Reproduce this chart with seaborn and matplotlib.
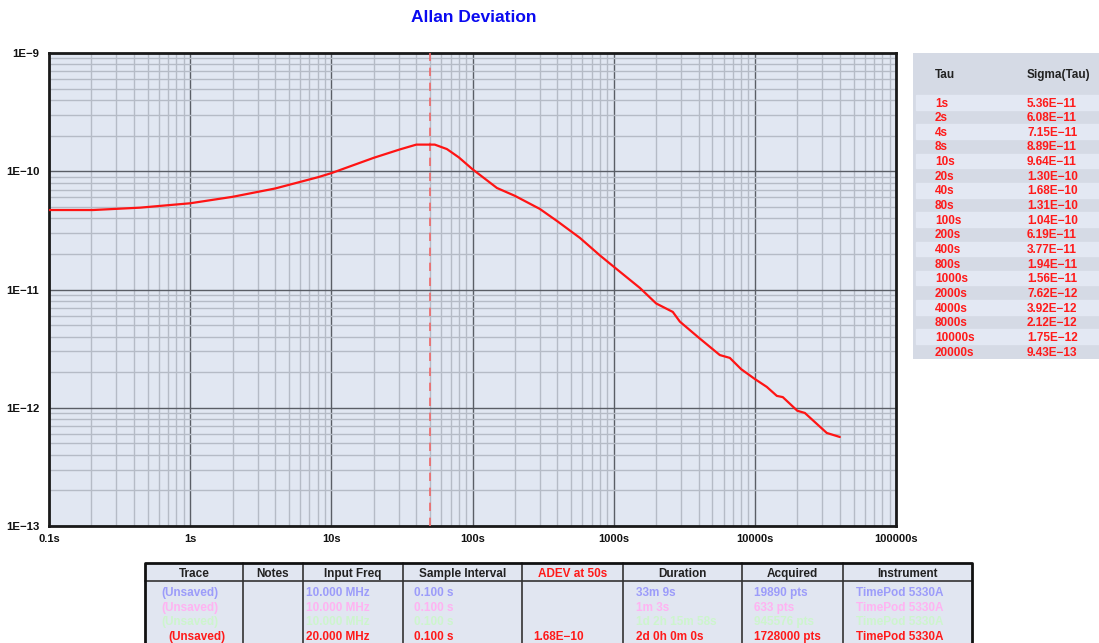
import numpy as np
import pandas as pd
import matplotlib
matplotlib.use("Agg")
import matplotlib.pyplot as plt
import seaborn as sns
from matplotlib.ticker import LogLocator, FixedLocator, FixedFormatter, NullFormatter

# Courbe (tau en s, sigma)
tau = [0.1, 0.205, 0.44, 1, 2, 4, 8, 10, 20, 30.6, 40, 54, 65.9, 80, 100, 149, 200,
       300, 400, 577, 800, 1000, 1535, 2000, 2624, 2944, 4000, 5650, 6650, 8000,
       10000, 12160, 14320, 15780, 20000, 22600, 27500, 32340, 40000]
sigma = [4.70e-11, 4.70e-11, 4.92e-11, 5.36e-11, 6.08e-11, 7.15e-11, 8.89e-11, 9.64e-11,
         1.30e-10, 1.53e-10, 1.68e-10, 1.68e-10, 1.54e-10, 1.31e-10, 1.04e-10, 7.22e-11,
         6.19e-11, 4.80e-11, 3.77e-11, 2.73e-11, 1.94e-11, 1.56e-11, 1.03e-11, 7.62e-12,
         6.46e-12, 5.35e-12, 3.92e-12, 2.79e-12, 2.64e-12, 2.12e-12, 1.75e-12, 1.50e-12,
         1.26e-12, 1.23e-12, 9.43e-13, 9.04e-13, 7.30e-13, 6.12e-13, 5.66e-13]

x_ticks = [0.1, 1, 10, 100, 1000, 10000, 100000]
x_labels = ["0.1s", "1s", "10s", "100s", "1000s", "10000s", "100000s"]
y_ticks = [1e-13, 1e-12, 1e-11, 1e-10, 1e-9]
y_labels = ["1E\u221213", "1E\u221212", "1E\u221211", "1E\u221210", "1E\u22129"]
marker_tau = 50

# Tableau de droite
tab_tau = ["1s", "2s", "4s", "8s", "10s", "20s", "40s", "80s", "100s", "200s", "400s",
           "800s", "1000s", "2000s", "4000s", "8000s", "10000s", "20000s"]
tab_sigma = ["5.36E\u221211", "6.08E\u221211", "7.15E\u221211", "8.89E\u221211", "9.64E\u221211",
             "1.30E\u221210", "1.68E\u221210", "1.31E\u221210", "1.04E\u221210", "6.19E\u221211",
             "3.77E\u221211", "1.94E\u221211", "1.56E\u221211", "7.62E\u221212", "3.92E\u221212",
             "2.12E\u221212", "1.75E\u221212", "9.43E\u221213"]

# Tableau du bas
col_headers = ["Trace", "Notes", "Input Freq", "Sample Interval", "ADEV at 50s",
               "Duration", "Acquired", "Instrument"]
col_trace = ["(Unsaved)", "(Unsaved)", "(Unsaved)", "(Unsaved)"]
col_notes = ["", "", "", ""]
col_freq = ["10.000 MHz", "10.000 MHz", "10.000 MHz", "20.000 MHz"]
col_interval = ["0.100 s", "0.100 s", "0.100 s", "0.100 s"]
col_adev = ["", "", "", "1.68E\u221210"]
col_duration = ["33m 9s", "1m 3s", "1d 2h 15m 58s", "2d 0h 0m 0s"]
col_acquired = ["19890 pts", "633 pts", "945576 pts", "1728000 pts"]
col_instrument = ["TimePod 5330A", "TimePod 5330A", "TimePod 5330A", "TimePod 5330A"]
trace_colors = ["#9C9CFA", "#FFB3F2", "#CDF5CD", "#FF1A1A"]

sns.set_style("ticks", {"axes.facecolor": "#E1E7F2"})
plt.rcParams["font.family"] = ["Liberation Sans", "DejaVu Sans"]
plt.rcParams["font.weight"] = "bold"

W, H = 1099, 643
fig = plt.figure(figsize=(W / 100, H / 100), dpi=100)

def box(x0, y0, x1, y1):
    # rectangle en pixels (origine en haut a gauche)
    return [x0 / W, 1 - y1 / H, (x1 - x0) / W, (y1 - y0) / H]

ax = fig.add_axes(box(49, 53, 896, 526))
df = pd.DataFrame({"tau": tau, "sigma": sigma})
sns.lineplot(data=df, x="tau", y="sigma", ax=ax, color="#FF1414", lw=1.6, zorder=5)
ax.axvline(marker_tau, color="#F06868", lw=1.2, dashes=(5, 4), zorder=4)

ax.set_xscale("log")
ax.set_yscale("log")
ax.set_xlim(0.1, 1e5)
ax.set_ylim(1e-13, 1e-9)
ax.xaxis.set_major_locator(FixedLocator(x_ticks))
ax.xaxis.set_major_formatter(FixedFormatter(x_labels))
ax.yaxis.set_major_locator(FixedLocator(y_ticks))
ax.yaxis.set_major_formatter(FixedFormatter(y_labels))
for a in (ax.xaxis, ax.yaxis):
    a.set_minor_locator(LogLocator(base=10, subs=np.arange(2, 10), numticks=100))
    a.set_minor_formatter(NullFormatter())
ax.tick_params(which="both", length=0)
ax.tick_params(axis="x", pad=6, labelsize=8, labelcolor="#111111")
ax.tick_params(axis="y", pad=7, labelsize=8.2, labelcolor="#111111")
for lab in ax.get_xticklabels() + ax.get_yticklabels():
    lab.set_fontweight("bold")
ax.set_axisbelow(True)
ax.grid(which="minor", color="#B5BBC6", lw=1)
ax.grid(which="major", color="#5A5E66", lw=1)
for s in ax.spines.values():
    s.set_visible(True)
    s.set_color("#1A1A1A")
    s.set_linewidth(2)
ax.set_xlabel("")
ax.set_ylabel("")

fig.text(474 / W, 1 - 18 / H, "Allan Deviation", ha="center", va="center",
         color="#0A0AF0", fontsize=12.5, fontweight="bold")

FS = 8.5
BL = 4.2  # decalage centre -> ligne de base, en pixels

# panneau de droite
tp = fig.add_axes(box(913, 53, 1099, 359))
tp.set_xlim(913, 1099)
tp.set_ylim(359, 53)
tp.axis("off")
tp.add_patch(plt.Rectangle((913, 53), 186, 306, color="#D5DAE5", zorder=0))
tp.text(935, 74 + BL, "Tau", va="baseline", fontsize=FS, fontweight="bold", color="#222222")
tp.text(1027, 74 + BL, "Sigma(Tau)", va="baseline", fontsize=FS, fontweight="bold", color="#222222")
pitch = 14.65
for k, (t, s) in enumerate(zip(tab_tau, tab_sigma)):
    y0 = 95 + pitch * k
    if k % 2 == 0:
        tp.add_patch(plt.Rectangle((916, y0), 183, pitch, color="#E3E8F3", zorder=1))
    tp.text(935, y0 + pitch / 2 + BL, t, va="baseline", fontsize=FS, fontweight="bold",
            color="#FF1A1A", zorder=2)
    tp.text(1027, y0 + pitch / 2 + BL, s, va="baseline", fontsize=FS, fontweight="bold",
            color="#FF1A1A", zorder=2)

# tableau du bas
bt = fig.add_axes(box(140, 560, 980, 643))
bt.set_xlim(140, 980)
bt.set_ylim(643, 560)
bt.axis("off")
edges = [145, 243, 303, 403, 522, 623, 742, 843, 972]
bt.add_patch(plt.Rectangle((145, 563), 827, 90, facecolor="#E1E6F1", edgecolor="none", zorder=0))
for xe in edges[1:-1]:
    bt.plot([xe, xe], [563, 643], color="#333333", lw=1.2, zorder=2)
bt.plot([145, 972], [581, 581], color="#333333", lw=1.2, zorder=2)
bt.plot([145, 145, 972, 972], [650, 563, 563, 650], color="#111111", lw=2, zorder=3, clip_on=False)
for i, h in enumerate(col_headers):
    bt.text((edges[i] + edges[i + 1]) / 2, 572.5 + BL, h, ha="center", va="baseline",
            fontsize=FS, fontweight="bold",
            color="#FF1A1A" if h.startswith("ADEV") else "#222222")

columns = [col_trace, col_notes, col_freq, col_interval, col_adev, col_duration, col_acquired, col_instrument]
col_x = [161, 250, 306, 414, 533, 636, 754, 856]
row_y = [592, 606.5, 621, 635.5]
for c, vals in enumerate(columns):
    for r, v in enumerate(vals):
        xx = col_x[c] + (7 if (c == 0 and r == 3) else 0)
        bt.text(xx, row_y[r] + BL, v, va="baseline", fontsize=FS, fontweight="bold",
                color=trace_colors[r])

fig.savefig("out.png", dpi=100)
